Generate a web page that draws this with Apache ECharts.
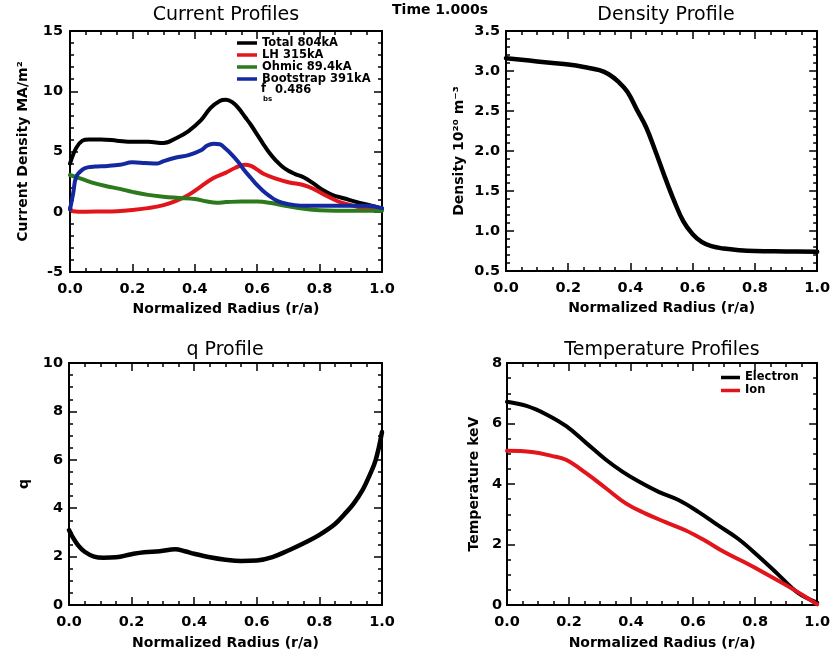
<!DOCTYPE html>
<html><head><meta charset="utf-8">
<script src="https://cdn.jsdelivr.net/npm/echarts@6/dist/echarts.min.js"></script>
<style>html,body{margin:0;padding:0;background:#fff}#c{width:833px;height:658px}</style>
</head><body><div id="c"></div>
<script>
// ---- Current profiles (MA/m^2) ----
const totalR = [0,0.02,0.04,0.06,0.10,0.15,0.20,0.25,0.30,0.34,0.38,0.42,0.45,0.48,0.50,0.52,0.54,0.56,0.58,0.60,0.62,0.64,0.66,0.68,0.70,0.72,0.75,0.78,0.81,0.84,0.88,0.92,0.96,1.00];
const totalJ = [4.0,5.3,5.9,6.0,6.0,5.9,5.8,5.8,5.7,6.1,6.7,7.6,8.6,9.2,9.3,9.1,8.6,7.9,7.2,6.4,5.6,4.85,4.25,3.75,3.4,3.15,2.85,2.35,1.8,1.4,1.1,0.8,0.55,0.25];
const lhR = [0,0.01,0.05,0.10,0.15,0.20,0.25,0.30,0.34,0.38,0.42,0.46,0.50,0.53,0.56,0.58,0.60,0.62,0.66,0.70,0.75,0.78,0.82,0.86,0.90,0.94,0.97,1.00];
const lhJ = [0.3,0.05,0.0,0.02,0.05,0.15,0.3,0.55,0.9,1.4,2.1,2.8,3.25,3.65,3.9,3.8,3.5,3.15,2.75,2.45,2.2,1.9,1.35,0.85,0.55,0.3,0.2,0.15];
const ohmR = [0,0.04,0.08,0.12,0.16,0.20,0.25,0.30,0.35,0.40,0.44,0.47,0.50,0.55,0.60,0.65,0.70,0.75,0.80,0.85,0.90,1.00];
const ohmJ = [3.05,2.7,2.35,2.1,1.9,1.65,1.4,1.25,1.15,1.05,0.85,0.75,0.8,0.85,0.85,0.7,0.45,0.25,0.12,0.08,0.08,0.08];
const bsR = [0,0.01,0.02,0.04,0.06,0.08,0.12,0.16,0.20,0.24,0.28,0.30,0.34,0.38,0.42,0.44,0.46,0.48,0.50,0.52,0.54,0.56,0.58,0.60,0.62,0.64,0.66,0.68,0.72,0.76,0.80,0.85,0.90,0.95,1.00];
const bsJ = [0.2,1.5,2.9,3.5,3.7,3.75,3.8,3.9,4.1,4.05,4.0,4.2,4.5,4.7,5.1,5.5,5.65,5.6,5.2,4.7,4.1,3.4,2.8,2.2,1.7,1.3,0.95,0.75,0.55,0.5,0.5,0.5,0.5,0.5,0.3];
const currentNames = ['Total 804kA','LH 315kA','Ohmic 89.4kA','Bootstrap 391kA'];
// ---- Density profile (10^20 m^-3) ----
const denR = [0,0.05,0.10,0.15,0.20,0.25,0.30,0.33,0.36,0.39,0.42,0.45,0.48,0.51,0.54,0.57,0.60,0.63,0.66,0.70,0.75,0.80,0.90,1.00];
const denN = [3.16,3.14,3.12,3.10,3.08,3.05,3.01,2.96,2.87,2.74,2.52,2.30,2.00,1.68,1.38,1.12,0.96,0.86,0.81,0.78,0.76,0.75,0.745,0.74];
// ---- q profile ----
const qR = [0,0.01,0.03,0.05,0.08,0.11,0.15,0.20,0.24,0.29,0.34,0.37,0.40,0.45,0.50,0.55,0.60,0.65,0.70,0.75,0.80,0.85,0.88,0.91,0.94,0.96,0.98,1.00];
const qV = [3.1,2.85,2.45,2.2,2.0,1.95,1.97,2.1,2.18,2.22,2.3,2.22,2.12,1.97,1.87,1.82,1.84,1.98,2.25,2.55,2.9,3.35,3.75,4.2,4.8,5.35,6.0,7.15];
// ---- Temperature profiles (keV) ----
const teR = [0,0.063,0.127,0.191,0.255,0.319,0.372,0.425,0.489,0.553,0.617,0.681,0.745,0.809,0.873,0.937,1.0];
const teV = [6.72,6.58,6.3,5.91,5.36,4.8,4.41,4.08,3.74,3.47,3.08,2.63,2.19,1.63,1.02,0.41,0.08];
const tiR = [0,0.08,0.144,0.19,0.255,0.319,0.383,0.447,0.511,0.575,0.638,0.702,0.766,0.83,0.894,0.958,1.0];
const tiV = [5.1,5.06,4.93,4.8,4.36,3.86,3.36,3.02,2.74,2.47,2.13,1.74,1.41,1.06,0.69,0.3,0.02];
const tempNames = ['Electron','Ion'];
// ---- axes ----
const xTicks = {min:0, max:1, interval:0.2};
const curTicks = {min:-5, max:15, interval:5};
const denTicks = {min:0.5, max:3.5, interval:0.5};
const qTicks = {min:0, max:10, interval:2};
const tTicks = {min:0, max:8, interval:2};

const FONT = '"DejaVu Sans", sans-serif';
const pairs = (xs, ys) => xs.map((x,i)=>[x, ys[i]]);
const lbl = {color:'#000', fontFamily:FONT, fontWeight:'bold', fontSize:14.5};
const nameStyle = {color:'#000', fontFamily:FONT, fontWeight:'bold', fontSize:14};
const common = {
  type:'value',
  axisLine:{show:true,onZero:false,lineStyle:{color:'#000',width:2}},
  axisTick:{show:true,inside:true,length:8,lineStyle:{color:'#000',width:1.5}},
  splitLine:{show:false}, minorSplitLine:{show:false}
};
function xAxes(g, nameGap){
  const b = Object.assign({}, common, xTicks, {gridIndex:g,
    minorTick:{show:true,splitNumber:4,length:4,lineStyle:{color:'#000',width:1.5}}});
  return [
    Object.assign({}, b, {position:'bottom', axisLabel:Object.assign({show:true, margin:10, formatter:v=>v.toFixed(1)}, lbl),
      name:'Normalized Radius (r/a)', nameLocation:'middle', nameGap:nameGap, nameTextStyle:nameStyle}),
    Object.assign({}, b, {position:'top', axisLabel:{show:false}})
  ];
}
function yAxes(g, t, minor, fmt, name, nameGap, margin){
  const b = Object.assign({}, common, t, {gridIndex:g,
    minorTick:{show:true,splitNumber:minor,length:4,lineStyle:{color:'#000',width:1.5}}});
  return [
    Object.assign({}, b, {position:'left', axisLabel:Object.assign({show:true, margin:margin, formatter:fmt}, lbl),
      name:name, nameLocation:'middle', nameGap:nameGap, nameTextStyle:nameStyle}),
    Object.assign({}, b, {position:'right', axisLabel:{show:false}})
  ];
}
function line(name, xi, yi, data, color, width){
  return {type:'line', name, xAxisIndex:xi, yAxisIndex:yi, data, showSymbol:false, smooth:0.4,
    lineStyle:{color, width, cap:'round', join:'round'}, itemStyle:{color}, emphasis:{disabled:true}, animation:false};
}
const RED='#e3151c', GREEN='#2c7a1c', BLUE='#1428a0';
const gfx = (x,y,text,size,weight,align,va) => ({type:'text', x, y, silent:true,
  style:{text, fill:'#000', font: (weight||'normal')+' '+size+'px '+FONT, align:align||'center', verticalAlign:va||'middle'}});

const option = {
  animation:false,
  backgroundColor:'#fff',
  grid:[
    {left:70, top:31, width:312, height:241},
    {left:506, top:31, width:312, height:240},
    {left:69, top:363, width:313, height:242},
    {left:507, top:363, width:313, height:242}
  ],
  xAxis:[].concat(xAxes(0,30), xAxes(1,30), xAxes(2,31), xAxes(3,31)),
  yAxis:[].concat(
    yAxes(0, curTicks, 5, v=>String(v), 'Current Density MA/m²', 40, 7),
    yAxes(1, denTicks, 5, v=>v.toFixed(1), 'Density 10²⁰ m⁻³', 40, 6),
    yAxes(2, qTicks, 4, v=>String(v), 'q', 38, 6),
    yAxes(3, tTicks, 4, v=>String(v), 'Temperature keV', 26, 5)
  ),
  legend:[
    {data:currentNames, orient:'vertical', left:237, top:37, padding:0, itemGap:0, itemWidth:20, itemHeight:3.5, icon:'rect',
     selectedMode:false, textStyle:{color:'#000', fontFamily:FONT, fontWeight:'bold', fontSize:11.5, lineHeight:11.7}},
    {data:tempNames, orient:'vertical', left:721, top:371, padding:0, itemGap:0, itemWidth:19, itemHeight:3.5, icon:'rect',
     selectedMode:false, textStyle:{color:'#000', fontFamily:FONT, fontWeight:'bold', fontSize:11.5, lineHeight:13}}
  ],
  graphic:[
    gfx(226,15,'Current Profiles',19),
    gfx(666,15,'Density Profile',19),
    gfx(225,350,'q Profile',19),
    gfx(662,350,'Temperature Profiles',19),
    gfx(440,10,'Time 1.000s',14,'bold'),
    gfx(261,89,'f',11.5,'bold','left'),
    gfx(263,99,'bs',7,'bold','left'),
    gfx(275,90,'0.486',11.5,'bold','left')
  ],
  series:[
    line(currentNames[0],0,0,pairs(totalR,totalJ),'#000',4),
    line(currentNames[1],0,0,pairs(lhR,lhJ),RED,4),
    line(currentNames[2],0,0,pairs(ohmR,ohmJ),GREEN,4),
    line(currentNames[3],0,0,pairs(bsR,bsJ),BLUE,4),
    line('Density',2,2,pairs(denR,denN),'#000',4.5),
    line('q',4,4,pairs(qR,qV),'#000',4.5),
    line(tempNames[0],6,6,pairs(teR,teV),'#000',4),
    line(tempNames[1],6,6,pairs(tiR,tiV),RED,4)
  ]
};
const chart = echarts.init(document.getElementById('c'), null, {renderer:'canvas'});
chart.setOption(option);
</script></body></html>
